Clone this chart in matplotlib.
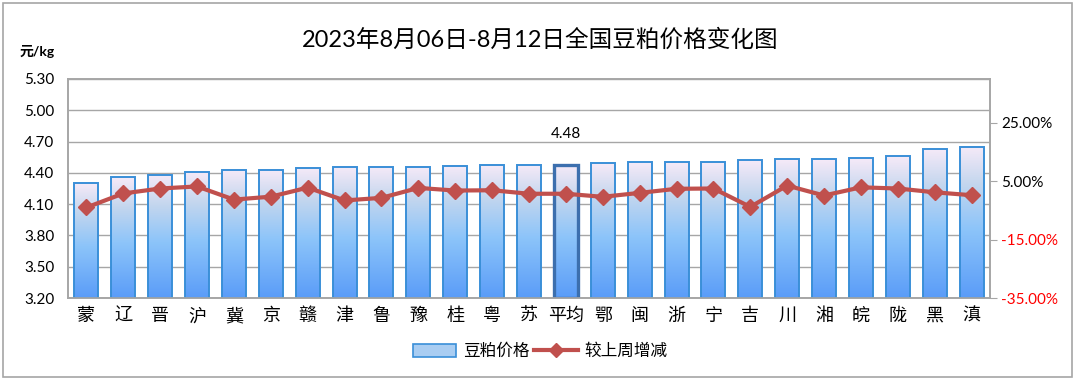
import matplotlib
matplotlib.use('Agg')
import matplotlib.pyplot as plt
import numpy as np
from matplotlib.colors import LinearSegmentedColormap
from matplotlib.patches import Rectangle, Patch
from matplotlib.lines import Line2D
from matplotlib.ticker import FuncFormatter

plt.rcParams['font.family'] = ['Lato', 'Noto Sans CJK SC', 'DejaVu Sans']

categories = ['蒙', '辽', '晋', '沪', '冀', '京', '赣', '津', '鲁', '豫', '桂', '粤', '苏',
              '平均', '鄂', '闽', '浙', '宁', '吉', '川', '湘', '皖', '陇', '黑', '滇']
prices = [4.30, 4.36, 4.38, 4.41, 4.43, 4.43, 4.45, 4.46, 4.46, 4.46, 4.47, 4.48, 4.48,
          4.48, 4.49, 4.50, 4.50, 4.50, 4.52, 4.53, 4.53, 4.54, 4.56, 4.63, 4.65]
changes = [-4.0, 0.8, 2.5, 3.2, -1.3, -0.3, 2.8, -1.6, -0.7, 2.7, 1.8, 1.9, 0.7,
           0.7, -0.35, 1.0, 2.4, 2.5, -3.8, 3.5, 0.1, 2.9, 2.5, 1.2, 0.2]
left_ticks = [3.20, 3.50, 3.80, 4.10, 4.40, 4.70, 5.00, 5.30]
right_ticks = [-35, -15, 5, 25]
avg_label = '平均'

title = '2023年8月06日-8月12日全国豆粕价格变化图'

fig = plt.figure(figsize=(10.8, 3.8), dpi=100)
ax = fig.add_axes([68/1080, 1-298/380, (990-68)/1080, (298-79)/380])

cmap = LinearSegmentedColormap.from_list('g', [(0.0, '#5A9CF8'), (0.45, '#8CC4FA'),
                                               (0.75, '#C3D6EE'), (1.0, '#F6EAF8')])
grad = np.linspace(0, 1, 256).reshape(-1, 1)

x = np.arange(len(categories))
w = 0.65
ymin, ymax = left_ticks[0], left_ticks[-1]
edges = ['#3C6FAE' if c == avg_label else '#3A8FD8' for c in categories]
lws = [2.4 if c == avg_label else 1.4 for c in categories]
bars = ax.bar(x, np.array(prices) - ymin, bottom=ymin, width=w, facecolor='none',
              edgecolor=edges, linewidth=lws, zorder=3)
for xi, p in zip(x, prices):
    ax.imshow(grad, extent=[xi - w/2, xi + w/2, ymin, p], origin='lower', cmap=cmap,
              aspect='auto', zorder=2, interpolation='bilinear')

ax.set_xlim(-0.5, len(categories) - 0.5)
ax.set_ylim(ymin, ymax)
ax.set_yticks(left_ticks)
ax.yaxis.set_major_formatter(FuncFormatter(lambda v, p: f'{v:.2f}'))
ax.set_xticks(x)
ax.set_xticklabels(categories, fontsize=13)
ax.tick_params(axis='x', length=0, pad=7)
ax.tick_params(axis='y', length=0, pad=10, labelsize=11)
ax.grid(axis='y', color='#A6A6A6', lw=1, zorder=0)
ax.set_axisbelow(True)
for s in ax.spines.values():
    s.set_color('#A6A6A6')
    s.set_linewidth(1.2)

ai = categories.index(avg_label)
ax.annotate(f'{prices[ai]:.2f}', (x[ai], prices[ai]), xytext=(0, 22),
            textcoords='offset points', ha='center', va='center', fontsize=11)

ax2 = ax.twinx()
ax2.plot(x, changes, color='#C0504D', lw=3, marker='D', ms=8, zorder=5)
ax2.set_ylim(-35, 40)
ax2.set_yticks(right_ticks)
ax2.yaxis.set_major_formatter(FuncFormatter(lambda v, p: f'{v:.2f}%'))
ax2.tick_params(axis='y', length=5, color='#A6A6A6', labelsize=11, pad=3)
for lab, v in zip(ax2.get_yticklabels(), right_ticks):
    if v < 0:
        lab.set_color('#FF0000')
for s in ax2.spines.values():
    s.set_color('#A6A6A6')
    s.set_linewidth(1.2)

fig.text(0.5, 1 - 40/380, title, ha='center', va='center', fontsize=17)
fig.text(20/1080, 1 - 52/380, '元/kg', ha='left', va='center', fontsize=10, fontweight='bold')

handles = [Patch(facecolor='#A9CDF2', edgecolor='#3A8FD8', linewidth=1.2),
           Line2D([], [], color='#C0504D', lw=3, marker='D', ms=7)]
fig.legend(handles, ['豆粕价格', '较上周增减'], loc='center', bbox_to_anchor=(540/1080, 1 - 351/380),
           ncol=2, frameon=False, fontsize=12, handlelength=2.6, handletextpad=0.4,
           columnspacing=0.3, handleheight=0.8)

fig.add_artist(Rectangle((3/1080, 3/380), (1072-3)/1080, (377-3)/380, transform=fig.transFigure,
                         fill=False, ec='#A6A6A6', lw=1.2))

fig.savefig('out.png', dpi=100)
